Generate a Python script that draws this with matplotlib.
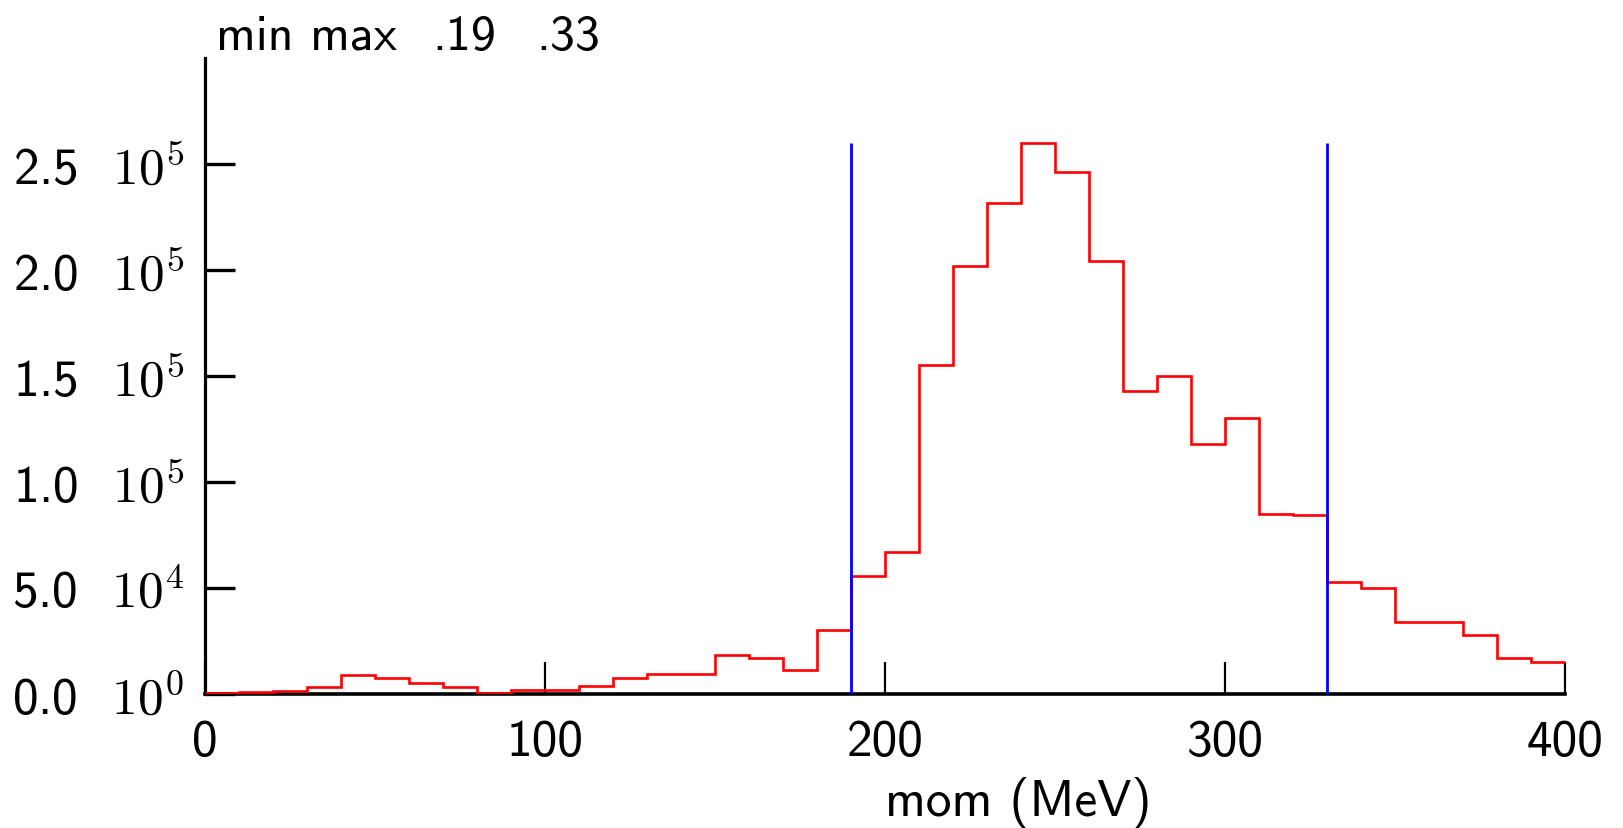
import matplotlib.pyplot as plt
import numpy as np

plt.rcParams['font.family'] = ['cmss10', 'DejaVu Sans']
plt.rcParams['mathtext.fontset'] = 'cm'
plt.rcParams['axes.unicode_minus'] = False

# momentum histogram, 10 MeV bins from 0 to 400 (counts)
edges = np.arange(0, 410, 10)
counts = [200, 500, 1100, 3000, 8800, 7200, 5200, 3100, 300, 1600,
          1600, 3500, 7200, 9100, 9400, 18300, 16900, 11200, 29900, 55400,
          67000, 155100, 201900, 231500, 259900, 246400, 204100, 143000, 149800, 117900,
          130200, 84800, 84400, 52700, 49700, 33600, 33900, 27500, 16800, 14900]

# cut lines
cuts = [190, 330]

xticks = [0, 100, 200, 300, 400]
yticks = [0, 50000, 100000, 150000, 200000, 250000]
ytick_labels = ['0.0  $10^{0}$', '5.0  $10^{4}$', '1.0  $10^{5}$',
                '1.5  $10^{5}$', '2.0  $10^{5}$', '2.5  $10^{5}$']

fig = plt.figure(figsize=(16.23, 8.29), dpi=100)
ax = fig.add_axes([0.1263, 0.1622, 0.9643 - 0.1263, 0.9288 - 0.1622])

ax.stairs(counts, edges, baseline=None, color='red', linewidth=1.9, zorder=3)
ax.vlines(cuts, 0, max(counts), color='blue', linewidth=2.0, zorder=3)

ax.set_xlim(0, 400)
ax.set_ylim(0, 300000)

ax.spines['top'].set_visible(False)
ax.spines['right'].set_visible(False)
ax.spines['left'].set_linewidth(2.3)
ax.spines['bottom'].set_linewidth(2.6)

ax.set_xticks(xticks)
ax.set_xticklabels([str(t) for t in xticks])
ax.set_yticks(yticks)
ax.set_yticklabels(ytick_labels)
ax.tick_params(axis='x', direction='in', length=23, width=1.6, pad=18, labelsize=37)
ax.tick_params(axis='y', direction='in', length=21.5, width=2.4, pad=15, labelsize=37)
ax.minorticks_off()

ax.text(0.5, -0.13, 'mom (MeV)', transform=ax.transAxes, ha='left', va='top', fontsize=37)
fig.text(216 / 1623, 1 - 50 / 829, 'min max', ha='left', va='baseline', fontsize=36)
fig.text(432 / 1623, 1 - 50 / 829, '.19', ha='left', va='baseline', fontsize=36)
fig.text(536 / 1623, 1 - 50 / 829, '.33', ha='left', va='baseline', fontsize=36)

fig.savefig('out.png', dpi=100)
